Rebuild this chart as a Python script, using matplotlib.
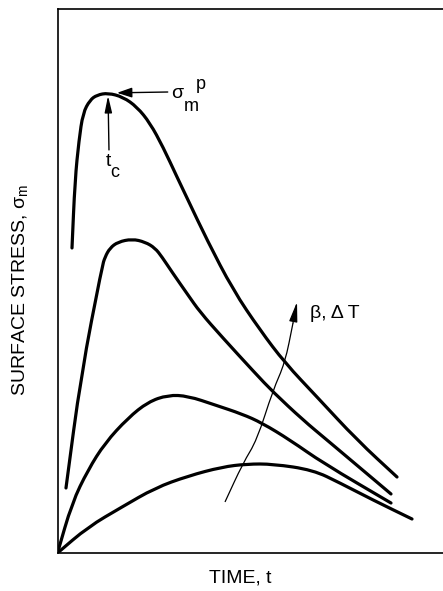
import numpy as np
import matplotlib
matplotlib.use("Agg")
import matplotlib.pyplot as plt
from matplotlib.path import Path
from matplotlib.patches import PathPatch

plt.rcParams["font.family"] = ["Liberation Sans", "DejaVu Sans"]
plt.rcParams["mathtext.fontset"] = "custom"
plt.rcParams["mathtext.rm"] = "Liberation Sans"
plt.rcParams["mathtext.it"] = "Liberation Sans"

# --- Curves (arbitrary units, axes run 0..10) ---
# highest beta, dT
t1 = [0.376, 0.454, 0.558, 0.661, 0.843, 1.025, 1.310, 1.699, 2.062, 2.399, 2.737,
      3.100, 3.385, 3.878, 4.553, 5.253, 5.901, 6.732, 7.769, 8.807]
s1 = [5.607, 6.857, 7.592, 8.088, 8.327, 8.419, 8.456, 8.382, 8.199, 7.904, 7.463,
      6.912, 6.489, 5.754, 4.835, 4.099, 3.493, 2.868, 2.077, 1.397]

t2 = [0.220, 0.610, 1.154, 1.232, 1.362, 1.569, 1.933, 2.270, 2.529, 2.711, 2.970,
      3.385, 3.696, 4.267, 5.123, 5.590, 6.368, 6.991, 8.651]
s2 = [1.195, 3.272, 5.257, 5.441, 5.607, 5.717, 5.772, 5.717, 5.607, 5.441, 5.165,
      4.743, 4.430, 3.971, 3.309, 2.960, 2.445, 2.077, 1.085]

t3 = [0.0, 0.376, 0.791, 1.232, 1.829, 2.348, 2.866, 3.385, 4.086, 4.786, 5.305,
      6.031, 6.887, 8.651]
s3 = [0.0, 0.919, 1.526, 2.022, 2.482, 2.776, 2.904, 2.886, 2.721, 2.555, 2.390,
      2.077, 1.654, 0.919]

# lowest beta, dT
t4 = [0.0, 0.791, 1.673, 2.529, 3.385, 4.267, 4.916, 5.590, 6.628, 7.328, 8.184, 9.196]
s4 = [0.0, 0.478, 0.846, 1.195, 1.415, 1.581, 1.636, 1.636, 1.526, 1.287, 0.974, 0.625]

# trend arrow (increasing beta, dT)
arrow_t = [4.345, 4.812, 5.175, 5.590, 5.901, 6.109, 6.213]
arrow_s = [0.938, 1.654, 2.077, 2.996, 3.493, 4.228, 4.614]


def smooth_path(t, s):
    # quadratic bezier through the midpoints, rounds off the corners
    pts = np.column_stack([t, s])
    verts = [pts[0], (pts[0] + pts[1]) / 2]
    codes = [Path.MOVETO, Path.LINETO]
    for i in range(1, len(pts) - 1):
        verts += [pts[i], (pts[i] + pts[i + 1]) / 2]
        codes += [Path.CURVE3, Path.CURVE3]
    verts.append(pts[-1])
    codes.append(Path.LINETO)
    return Path(verts, codes)


# --- Figure ---
fig = plt.figure(figsize=(4.43, 5.91), dpi=100)
ax = fig.add_axes([0.1298, 0.0643, 0.8702, 0.9205])

for t, s in [(t1, s1), (t2, s2), (t3, s3), (t4, s4)]:
    ax.add_patch(PathPatch(smooth_path(t, s), fill=False, edgecolor="black",
                           lw=2.3, capstyle="round", joinstyle="round"))

# trend arrow
ax.add_patch(PathPatch(smooth_path(arrow_t[:-1], arrow_s[:-1]), fill=False,
                       edgecolor="black", lw=0.9))
ax.annotate("", xy=(arrow_t[-1], arrow_s[-1]), xytext=(arrow_t[-2], arrow_s[-2]),
            arrowprops=dict(arrowstyle="-|>,head_length=1.2,head_width=0.25",
                            color="black", lw=0.9, shrinkA=0, shrinkB=0))
ax.annotate("β, Δ T", xy=(arrow_t[-1], arrow_s[-1]), xytext=(9.4, -8.6),
            textcoords="offset points", ha="left", va="center", fontsize=14)

# peak of the top curve: t_c and sigma_m^p markers
i_pk = int(np.argmax(s1))
peak = (t1[i_pk], s1[i_pk])
ax.annotate("", xy=peak, xytext=(43, 0.7), textcoords="offset points",
            arrowprops=dict(arrowstyle="-|>,head_length=0.9,head_width=0.3",
                            color="black", lw=1.0, shrinkA=0, shrinkB=6.5))
ax.annotate("", xy=peak, xytext=(0.7, -41), textcoords="offset points",
            arrowprops=dict(arrowstyle="-|>,head_length=1.0,head_width=0.22",
                            color="black", lw=1.0, shrinkA=0, shrinkB=2))
ax.annotate("σ", xy=peak, xytext=(49.7, -0.7), textcoords="offset points",
            ha="center", va="center", fontsize=14)
ax.annotate("m", xy=peak, xytext=(59.8, -9.4), textcoords="offset points",
            ha="center", va="center", fontsize=13)
ax.annotate("p", xy=peak, xytext=(67, 5.8), textcoords="offset points",
            ha="center", va="center", fontsize=13)
ax.annotate("t", xy=peak, xytext=(0, -49), textcoords="offset points",
            ha="center", va="center", fontsize=14)
ax.annotate("c", xy=peak, xytext=(5, -57.6), textcoords="offset points",
            ha="center", va="center", fontsize=13)

# --- Axes styling ---
ax.set_xlim(0, 10)
ax.set_ylim(0, 10)
ax.set_xticks([])
ax.set_yticks([])
ax.spines["right"].set_visible(False)
for side in ["left", "top", "bottom"]:
    ax.spines[side].set_linewidth(1.2)
ax.set_xlabel("TIME, t", fontsize=14)
ax.xaxis.set_label_coords(0.473, -0.031)
ax.set_ylabel(r"SURFACE STRESS, $\sigma_{\mathrm{m}}$", fontsize=14)
ax.yaxis.set_label_coords(-0.071, 0.483)

fig.savefig("out.png", dpi=100)
